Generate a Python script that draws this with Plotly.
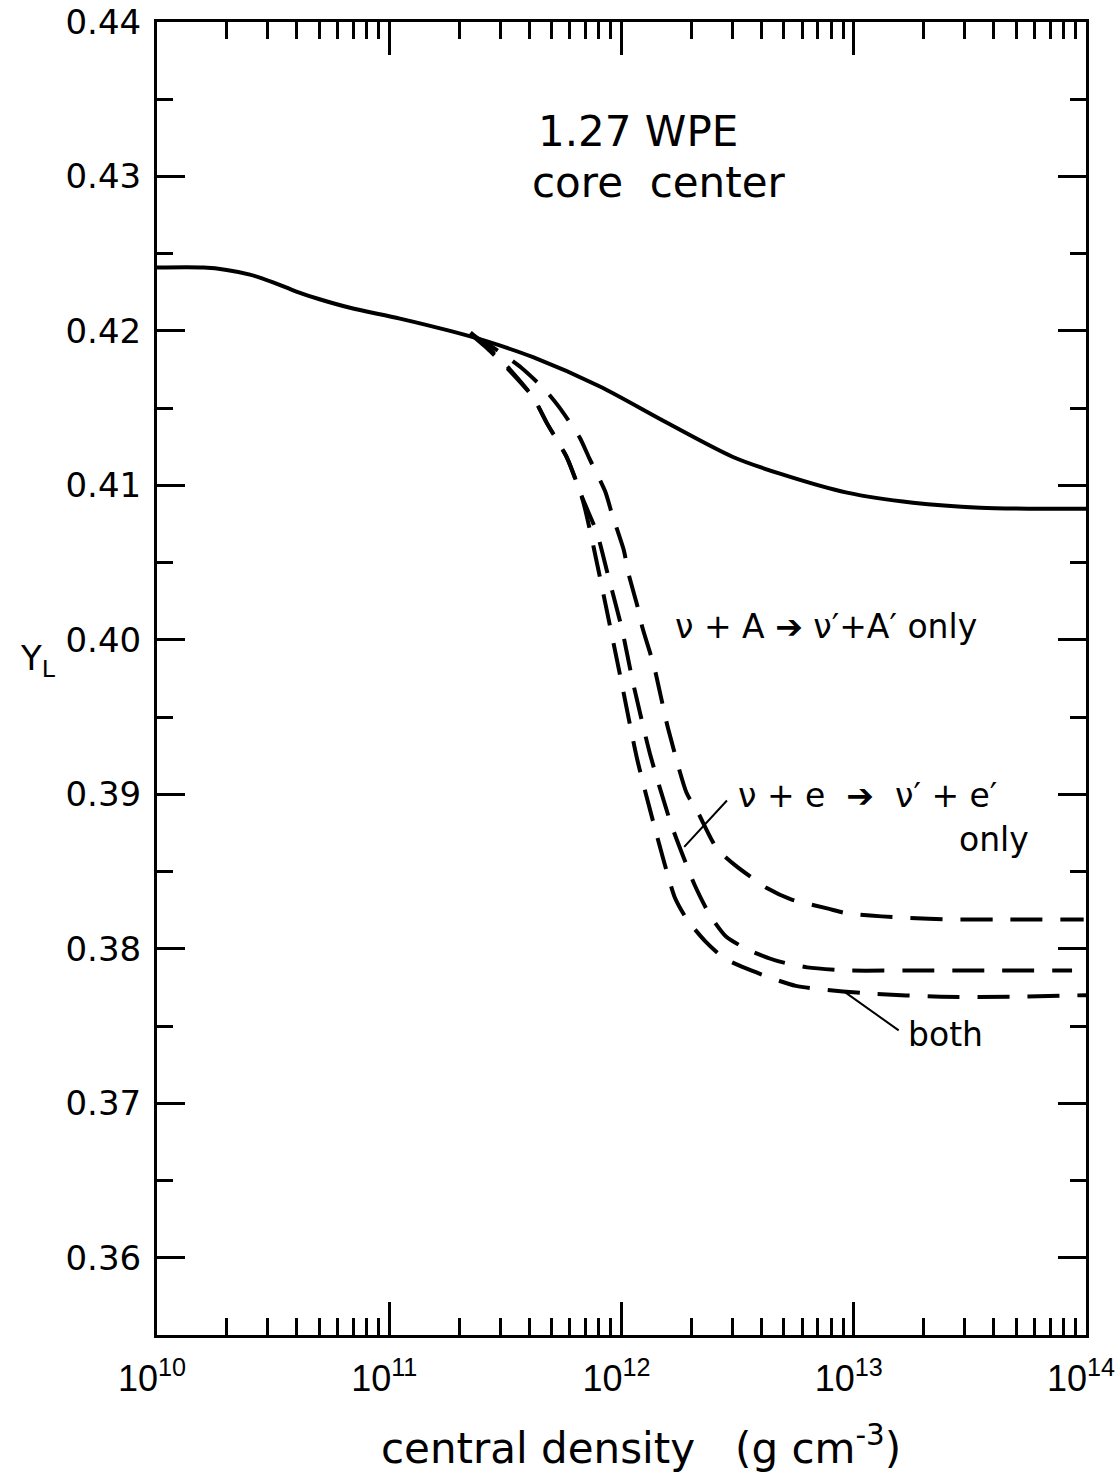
import numpy as np
import plotly.graph_objects as go

# ---- data (log10 of central density, Y_L) ----
solid_logrho = [10.0, 10.2, 10.3, 10.4, 10.5, 10.6, 10.7, 10.831, 11.046, 11.262, 11.404, 11.619,
                11.907, 12.196, 12.48, 12.682, 12.971, 13.255, 13.544, 13.832, 14.0]
solid_yl = [0.4241, 0.42410, 0.42395, 0.42365, 0.42315, 0.42255, 0.42205, 0.4215, 0.4208,
            0.4200, 0.4194, 0.4183, 0.4164, 0.41405, 0.41184, 0.41076, 0.40953, 0.40888,
            0.40856, 0.40849, 0.40849]

nuA_logrho = [11.35, 11.45, 11.57, 11.67, 11.73, 11.82, 11.86, 11.93, 11.96, 12.01, 12.03,
              12.07, 12.09, 12.14, 12.2, 12.28, 12.33, 12.41, 12.49, 12.63, 12.73, 12.89,
              12.97, 13.12, 13.24, 13.4, 13.67, 13.99]
nuA_yl = [0.4198, 0.4189, 0.4176, 0.4162, 0.4151, 0.4131, 0.4118, 0.4096, 0.4081, 0.4058,
          0.4043, 0.4021, 0.4008, 0.3983, 0.3943, 0.3901, 0.3888, 0.3865, 0.3854, 0.3839,
          0.3832, 0.3826, 0.3823, 0.3821, 0.3820, 0.3819, 0.3819, 0.3819]

nue_logrho = [11.35, 11.434, 11.52, 11.62, 11.68, 11.765, 11.834, 11.895, 11.94, 12.002,
              12.05, 12.123, 12.213, 12.316, 12.38, 12.45, 12.55, 12.674, 12.8, 12.971,
              13.242, 13.54, 13.94]
nue_yl = [0.4199, 0.4188, 0.4175, 0.4157, 0.4140, 0.4118, 0.4091, 0.4069, 0.4043, 0.4007,
          0.3972, 0.3926, 0.3881, 0.3841, 0.3822, 0.3808, 0.3799, 0.3792, 0.3788, 0.3786,
          0.3786, 0.3786, 0.3786]

both_logrho = [11.35, 11.434, 11.52, 11.62, 11.68, 11.765, 11.834, 11.88, 11.93, 11.998,
               12.067, 12.144, 12.23, 12.282, 12.36, 12.441, 12.558, 12.751, 13.074, 13.376,
               13.7, 14.0]
both_yl = [0.4198, 0.4187, 0.4174, 0.4157, 0.4140, 0.4118, 0.4090, 0.4060, 0.4024, 0.3974,
           0.3923, 0.3878, 0.3833, 0.3819, 0.3805, 0.3794, 0.3786, 0.3776, 0.3771, 0.3769,
           0.3769, 0.3770]

x_tick_vals = [1e10, 1e11, 1e12, 1e13, 1e14]
x_tick_text = ["10<sup>10</sup>", "10<sup>11</sup>", "10<sup>12</sup>", "10<sup>13</sup>", "10<sup>14</sup>"]
x_minor_vals = [m * 10.0 ** d for d in range(10, 14) for m in range(2, 10)]

FONT = "DejaVu Sans"
BLACK = "black"
DASH = "32px,18px"

fig = go.Figure()
fig.add_trace(go.Scatter(x=10 ** np.array(solid_logrho), y=solid_yl, mode="lines",
                         line=dict(color=BLACK, width=4, shape="spline", smoothing=0.8),
                         showlegend=False))
for lx, ly in [(nuA_logrho, nuA_yl), (nue_logrho, nue_yl), (both_logrho, both_yl)]:
    fig.add_trace(go.Scatter(x=10 ** np.array(lx), y=ly, mode="lines",
                             line=dict(color=BLACK, width=4, dash=DASH, shape="spline",
                                       smoothing=0.6),
                             showlegend=False))

big_font = dict(family=FONT, size=42, color=BLACK)
lab_font = dict(family=FONT, size=33, color=BLACK)
annotations = [
    dict(x=12.07, y=0.4329, text="1.27 WPE", showarrow=False, font=big_font),
    dict(x=12.16, y=0.42958, text="core  center", showarrow=False, font=big_font),
    dict(x=12.88, y=0.40085, text="ν + A ➔ ν′+A′ only", showarrow=False, font=lab_font),
    dict(x=13.06, y=0.38995, text="ν + e  ➔  ν′ + e′", showarrow=False, font=lab_font),
    dict(x=13.604, y=0.38705, text="only", showarrow=False, font=lab_font),
    dict(x=13.393, y=0.37446, text="both", showarrow=False, font=lab_font),
    # leaders
    dict(x=12.27, y=0.3866, ax=12.46, ay=0.3897, axref="x", ayref="y", text="",
         showarrow=True, arrowhead=0, arrowwidth=2, arrowcolor=BLACK),
    dict(x=12.962, y=0.3772, ax=13.2, ay=0.37465, axref="x", ayref="y", text="",
         showarrow=True, arrowhead=0, arrowwidth=2, arrowcolor=BLACK),
    # axis titles
    dict(xref="paper", yref="paper", x=0.521, y=-0.0838, xanchor="center", yanchor="middle",
         text="central density   (g cm<sup>-3</sup>)",
         showarrow=False, font=dict(family=FONT, size=42, color=BLACK)),
    dict(xref="paper", yref="paper", x=-0.128, y=0.514, xanchor="center", yanchor="middle",
         text="Y<sub>L</sub>", showarrow=False, font=dict(family=FONT, size=34, color=BLACK)),
]

fig.update_layout(
    width=1116, height=1477,
    margin=dict(l=157, r=30, t=22, b=142),
    paper_bgcolor="white", plot_bgcolor="white",
    annotations=annotations,
    xaxis=dict(type="log", range=[10 - 1e-6, 14 + 1e-6], tickmode="array", tickvals=x_tick_vals,
               ticktext=x_tick_text, ticks="inside", ticklen=33, tickwidth=3, tickcolor=BLACK,
               showline=True, linewidth=3, linecolor=BLACK, mirror="allticks", showgrid=False,
               zeroline=False, automargin=False, ticklabelstandoff=10, ticklabelshift=-5,
               ticklabeloverflow="allow",
               tickfont=dict(family="Liberation Sans", size=36, color=BLACK),
               minor=dict(tickmode="array", tickvals=x_minor_vals, ticks="inside", ticklen=17,
                          tickwidth=3, tickcolor=BLACK, showgrid=False)),
    yaxis=dict(range=[0.355, 0.44], tick0=0.36, dtick=0.01, tickformat=".2f",
               ticks="inside", ticklen=28, tickwidth=3, tickcolor=BLACK,
               showline=True, linewidth=3, linecolor=BLACK, mirror="allticks", showgrid=False,
               zeroline=False, automargin=False, ticklabelstandoff=6,
               ticklabeloverflow="allow",
               tickfont=dict(family=FONT, size=34, color=BLACK),
               minor=dict(dtick=0.005, tick0=0.355, ticks="inside", ticklen=16, tickwidth=3,
                          tickcolor=BLACK, showgrid=False)),
)

fig.write_html("out.html")
